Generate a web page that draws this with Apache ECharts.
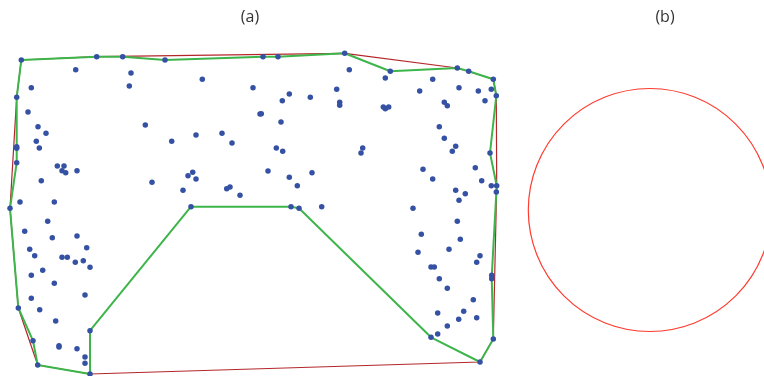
<!DOCTYPE html>
<html>
<head>
<meta charset="utf-8">
<script src="https://cdn.jsdelivr.net/npm/echarts@6/dist/echarts.min.js"></script>
<style>
  html, body { margin: 0; padding: 0; background: #fff; }
  #chart { width: 764px; height: 376px; }
</style>
</head>
<body>
<div id="chart"></div>
<script>
// sample points of panel (a), [x, y] in plane units (y grows downwards)
const samplePoints = [
  [21.3, 60], [96.7, 56.7], [122.7, 56.7], [165, 60], [75.7, 69.7], [131, 73],
  [31.3, 87.7], [16.7, 97.3], [129.3, 86], [202.3, 79.3], [253, 87.7], [28, 112],
  [38, 126.7], [46, 133.3], [145.3, 125], [36.3, 141.3], [16.7, 146.7], [16.7, 148.3],
  [39.3, 148], [171.7, 141.3], [196, 135], [222, 133.3], [232, 143], [16.7, 162.7],
  [57.3, 166], [64, 166], [62, 170.7], [65.7, 172.7], [77, 170.7], [41.3, 180.7],
  [152, 182.3], [188, 175.7], [192.7, 172.3], [196, 179], [183, 190.3], [226.7, 188.7],
  [230, 187], [240, 195.3], [10, 208.3], [20, 202], [54.3, 202], [191, 206.7],
  [47.7, 221.3], [24.7, 231.3], [52.3, 237.7], [77, 236], [86.7, 247.7], [29.7, 249.3],
  [34.7, 255.7], [62, 257.3], [67.3, 257.3], [75.3, 262.3], [83.3, 260.7], [90, 267.3],
  [42.7, 270.3], [31.3, 275.3], [54.3, 283.3], [85, 295], [31.3, 298.3], [18.3, 308],
  [39.7, 309.7], [55.7, 321], [90, 330.7], [33, 340.7], [59, 345.7], [59, 347],
  [77, 348.7], [85, 357], [85, 363.3], [37.7, 365], [90, 374],
  [263, 56.7], [278, 56.7], [344.7, 53.3], [349.3, 69.7], [390.3, 71.3], [385.3, 78],
  [432.7, 79.3], [457.3, 68], [468.7, 71.3], [493.3, 79.3], [260, 114], [289.3, 94],
  [282.3, 100.7], [310.3, 97.3], [336.7, 89.3], [339.7, 102.3], [339.7, 105.3],
  [383.3, 107], [385.3, 108.7], [388.7, 107], [419.7, 91], [444.3, 102.3], [447.3, 105.7],
  [459, 87.7], [478.3, 91], [491.3, 89.3], [485, 100.7], [496.3, 95.7], [261.3, 113.7],
  [281, 122], [439.3, 126.7], [444.3, 138.3], [455.7, 146.3], [452.3, 151.3], [490, 153],
  [276.3, 148], [282.7, 151.3], [362.7, 148], [361, 153], [268, 171], [289.3, 177.3],
  [297.3, 185.7], [312, 172.7], [423, 169.3], [432.7, 179], [475.3, 167.7], [481.7, 180.7],
  [491.3, 185.7], [496.7, 185.7], [496.3, 192], [455.7, 190.3], [465.3, 193.7], [459, 200.3],
  [291, 206.7], [299, 208.3], [321.7, 206.7], [413, 208.3],
  [457.3, 221.3], [421.3, 234.3], [460.3, 239.3], [418, 252.3], [449, 249.3], [480, 255.7],
  [476.7, 262.3], [431, 267], [434.3, 267], [439.3, 278.7], [491.7, 275.3], [491.7, 278.7],
  [447.3, 288.3], [473.3, 299.7], [463.7, 311.3], [437.7, 313], [458.7, 319.3], [476.7, 317.7],
  [447.3, 326], [437.7, 334], [431, 337.3], [493.3, 339], [480, 362]
];

// convex hull (red), closed
const convexHull = [
  [21.3, 60], [96.7, 56.7], [344.7, 53.3], [457.3, 68], [493.3, 79.3], [496.3, 95.7],
  [496.7, 185.7], [493.3, 339], [480, 362], [90, 374], [37.7, 365], [18.3, 308],
  [10, 208.3], [16.7, 97.3], [21.3, 60]
];

// concave hull (green), closed
const concaveHull = [
  [21.3, 60], [96.7, 56.7], [122.7, 56.7], [165, 60], [263, 56.7], [278, 56.7],
  [344.7, 53.3], [390.3, 71.3], [457.3, 68], [468.7, 71.3], [493.3, 79.3], [496.3, 95.7],
  [490, 153], [496.7, 185.7], [491.7, 277], [493.3, 339], [480, 362], [431, 337.3],
  [299, 208.3], [291, 206.7], [191, 206.7], [90, 330.7], [90, 374], [37.7, 365],
  [33, 340.7], [18.3, 308], [10, 208.3], [16.7, 162.7], [16.7, 146.7], [16.7, 97.3],
  [21.3, 60]
];

// panel (b): bounding circle
const circleCenter = [649.8, 210];
const circleRadius = 121.5;

const panelTitles = ['(a)', '(b)'];

const chart = echarts.init(document.getElementById('chart'));

const titleStyle = { fontFamily: 'Open Sans', fontSize: 16, fontWeight: 'normal', color: '#333' };

const option = {
  animation: false,
  title: [
    { text: panelTitles[0], left: 245, top: 4, textAlign: 'center', textStyle: titleStyle },
    { text: panelTitles[1], left: 660, top: 4, textAlign: 'center', textStyle: titleStyle }
  ],
  grid: { left: 0, right: 0, top: 0, bottom: 0 },
  xAxis: { type: 'value', min: 0, max: 764, show: false },
  yAxis: { type: 'value', min: 0, max: 376, inverse: true, show: false },
  polar: { center: circleCenter, radius: circleRadius },
  angleAxis: {
    type: 'value', min: 0, max: 360,
    axisLine: { show: true, lineStyle: { color: '#ff3b2f', width: 1.2 } },
    axisTick: { show: false }, axisLabel: { show: false }, splitLine: { show: false }
  },
  radiusAxis: { show: false, min: 0, max: 1 },
  series: [
    {
      type: 'line', data: convexHull, symbol: 'none', silent: true,
      lineStyle: { color: '#b3272b', width: 1.2 }, z: 2
    },
    {
      type: 'line', data: concaveHull, symbol: 'none', silent: true,
      lineStyle: { color: '#3db54a', width: 2 }, z: 3
    },
    {
      type: 'scatter', data: samplePoints, symbolSize: 5.5,
      itemStyle: { color: '#3551a4', opacity: 1 }, z: 4
    },
    {
      type: 'scatter', coordinateSystem: 'polar', data: [], silent: true
    }
  ]
};

chart.setOption(option);
</script>
</body>
</html>
